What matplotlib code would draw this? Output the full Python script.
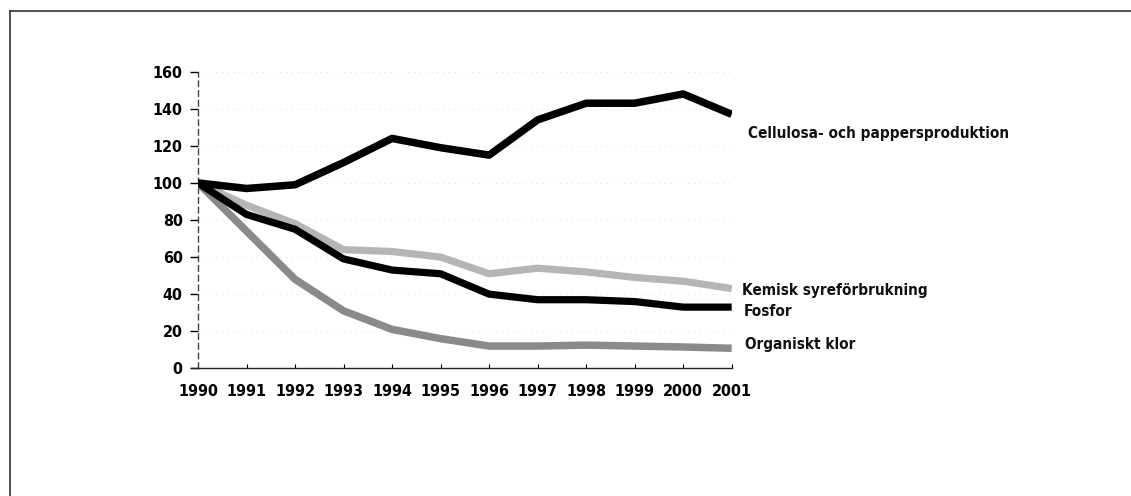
import matplotlib
matplotlib.use("Agg")
import matplotlib.pyplot as plt
from matplotlib.lines import Line2D

years = [1990, 1991, 1992, 1993, 1994, 1995, 1996, 1997, 1998, 1999, 2000, 2001]
cellulosa = [100, 97, 99, 111, 124, 119, 115, 134, 143, 143, 148, 137]
kemisk = [100, 88, 78, 64, 63, 60, 51, 54, 52, 49, 47, 43]
fosfor = [100, 83, 75, 59, 53, 51, 40, 37, 37, 36, 33, 33]
organiskt = [100, 74, 48, 31, 21, 16, 12, 12, 12.5, 12, 11.5, 10.8]
series_names = ["Cellulosa- och pappersproduktion", "Kemisk syreförbrukning", "Fosfor", "Organiskt klor"]
label_y = [126.5, 42, 30.5, 12.6]
label_x = [2001.33, 2001.22, 2001.25, 2001.28]
yticks = [0, 20, 40, 60, 80, 100, 120, 140, 160]

plt.rcParams['font.family'] = ["DejaVu Sans"]
plt.rcParams['font.stretch'] = 'condensed'
plt.rcParams['font.weight'] = 'bold'

fig = plt.figure(figsize=(11.31, 4.96), dpi=100)
ax = fig.add_axes([198/1131, 1-368.3/496, (731.7-198)/1131, (368.3-71.7)/496])

fig.add_artist(Line2D([10/1131, 1], [1-10.5/496, 1-10.5/496], transform=fig.transFigure, color="#333333", lw=1.2))
fig.add_artist(Line2D([10/1131, 10/1131], [0, 1-10.5/496], transform=fig.transFigure, color="#333333", lw=1.2))

for y in yticks[1:]:
    ax.axhline(y, color="#cccccc", lw=0.6, ls=(0, (1, 6)), zorder=0)

ax.plot(years, organiskt, color="#8a8a8a", lw=5.4, solid_joinstyle="round", solid_capstyle="butt", zorder=3)
ax.plot(years, kemisk, color="#b5b5b5", lw=5.2, solid_joinstyle="round", solid_capstyle="butt", zorder=3)
ax.plot(years, fosfor, color="#000000", lw=5.2, solid_joinstyle="round", solid_capstyle="butt", zorder=4)
ax.plot(years, cellulosa, color="#000000", lw=5.4, solid_joinstyle="round", solid_capstyle="butt", zorder=4)

for name, x, y in zip(series_names, label_x, label_y):
    ax.text(x, y, name, fontsize=11, va="center", ha="left", color="#111111", clip_on=False)

ax.set_xlim(1990, 2001)
ax.set_ylim(0, 160)
ax.set_xticks(years)
ax.set_xticklabels([str(y) for y in years])
ax.set_yticks(yticks)
for s in ["top", "right"]:
    ax.spines[s].set_visible(False)
ax.spines["left"].set_linestyle((0, (4, 3)))
ax.spines["left"].set_color("#444444")
ax.spines["left"].set_linewidth(1.0)
ax.spines["bottom"].set_color("#222222")
ax.spines["bottom"].set_linewidth(1.0)
ax.spines["bottom"].set_bounds(1989.85, 2001)
ax.tick_params(axis="y", direction="out", length=6, width=1, pad=5, labelsize=11.5)
ax.tick_params(axis="x", direction="in", length=3, width=0.8, pad=11, labelsize=11.5)

fig.savefig("out.png", dpi=100, facecolor="white")
